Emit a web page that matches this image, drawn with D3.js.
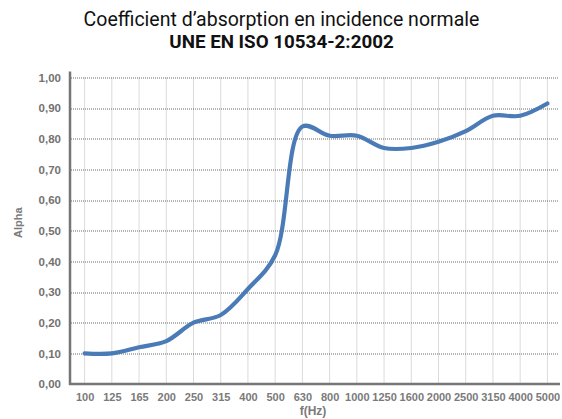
<!DOCTYPE html>
<html>
<head>
<meta charset="utf-8">
<script src="https://cdn.jsdelivr.net/npm/d3@7"></script>
<style>
  body { margin: 0; background: #fff; }
  svg { display: block; }
</style>
</head>
<body>
<div id="chart"></div>
<script>
// values
var freqs = ["100", "125", "165", "200", "250", "315", "400", "500", "630", "800",
             "1000", "1250", "1600", "2000", "2500", "3150", "4000", "5000"];
var alpha = [0.10, 0.10, 0.12, 0.14, 0.20, 0.225, 0.31, 0.42, 0.84, 0.81,
             0.81, 0.77, 0.77, 0.79, 0.825, 0.875, 0.875, 0.915];
var yTicks = [0, 0.1, 0.2, 0.3, 0.4, 0.5, 0.6, 0.7, 0.8, 0.9, 1.0];

var title1 = "Coefficient d\u2019absorption en incidence normale",
    title2 = "UNE EN ISO 10534-2:2002";

var W = 562, H = 419;
var margin = {top: 77.5, right: 1, bottom: 35, left: 71};
var width = W - margin.left - margin.right,
    height = H - margin.top - margin.bottom;

var svg = d3.select("#chart").append("svg")
    .attr("width", W)
    .attr("height", H);

svg.append("text")
    .attr("x", 281.5).attr("y", 26)
    .attr("text-anchor", "middle")
    .style("font-family", "Roboto, 'Liberation Sans', sans-serif")
    .style("font-size", "19.5px")
    .style("fill", "#111")
    .text(title1);

svg.append("text")
    .attr("x", 281.5).attr("y", 48)
    .attr("text-anchor", "middle")
    .style("font-family", "Roboto, 'Liberation Sans', sans-serif")
    .style("font-weight", "bold")
    .style("font-size", "18.8px")
    .style("fill", "#111")
    .text(title2);

var g = svg.append("g")
    .attr("transform", "translate(" + margin.left + "," + margin.top + ")");

var x = d3.scalePoint()
    .domain(freqs)
    .range([0, width])
    .padding(0.5);

var y = d3.scaleLinear()
    .domain([0, 1])
    .range([height, 0]);

// vertical grid (light dotted)
g.append("g").selectAll("line")
    .data(freqs)
  .enter().append("line")
    .attr("x1", d => x(d)).attr("x2", d => x(d))
    .attr("y1", y(1)).attr("y2", y(0))
    .attr("stroke", "#b5b5b5")
    .attr("stroke-width", 1)
    .attr("stroke-dasharray", "1,1");

// horizontal grid (dark dotted)
g.append("g").selectAll("line")
    .data(yTicks.slice(1))
  .enter().append("line")
    .attr("x1", 0).attr("x2", width - 3)
    .attr("y1", d => Math.round(y(d)) + 0.5).attr("y2", d => Math.round(y(d)) + 0.5)
    .attr("stroke", "#6a6a6a")
    .attr("stroke-width", 1)
    .attr("stroke-dasharray", "1,1");

var yAxis = d3.axisLeft(y)
    .tickValues(yTicks)
    .tickSize(0)
    .tickPadding(10)
    .tickFormat(d => d3.format(".2f")(d).replace(".", ","));

var xAxis = d3.axisBottom(x)
    .tickSize(0)
    .tickPadding(9);

var ya = g.append("g").attr("class", "y axis").call(yAxis);
var xa = g.append("g").attr("class", "x axis")
    .attr("transform", "translate(0," + height + ")")
    .call(xAxis);

ya.select(".domain").remove();
xa.select(".domain").remove();

[ya, xa].forEach(function(a) {
  a.selectAll("text")
    .style("font-family", "'Liberation Sans', Arial, sans-serif")
    .style("font-weight", "bold")
    .style("font-size", "11.5px")
    .style("fill", "#727272");
});
xa.selectAll("text").style("font-size", "11px").style("fill", "#7a7a7a");

// axis lines
g.append("line")
    .attr("x1", -1).attr("x2", -1)
    .attr("y1", -6).attr("y2", height + 1)
    .attr("stroke", "#767676")
    .attr("stroke-width", 2.5);
g.append("line")
    .attr("x1", -2).attr("x2", width - 1)
    .attr("y1", height).attr("y2", height)
    .attr("stroke", "#767676")
    .attr("stroke-width", 2.5);

// the curve
var line = d3.line()
    .x((d, i) => x(freqs[i]))
    .y(d => y(d))
    .curve(d3.curveCatmullRom);

g.append("path")
    .datum(alpha)
    .attr("d", line)
    .attr("fill", "none")
    .attr("stroke", "#4a7bb6")
    .attr("stroke-width", 4.2)
    .attr("stroke-linecap", "round");

// axis titles
svg.append("text")
    .attr("x", margin.left + width / 2 - 3).attr("y", 414.5)
    .attr("text-anchor", "middle")
    .style("font-family", "'Liberation Sans', Arial, sans-serif")
    .style("font-weight", "bold")
    .style("font-size", "12px")
    .style("fill", "#7a7a7a")
    .text("f(Hz)");

svg.append("text")
    .attr("transform", "translate(21.5," + (margin.top + height / 2 - 8) + ") rotate(-90)")
    .attr("text-anchor", "middle")
    .style("font-family", "'Liberation Sans', Arial, sans-serif")
    .style("font-weight", "bold")
    .style("font-size", "11px")
    .style("fill", "#7a7a7a")
    .text("Alpha");
</script>
</body>
</html>
